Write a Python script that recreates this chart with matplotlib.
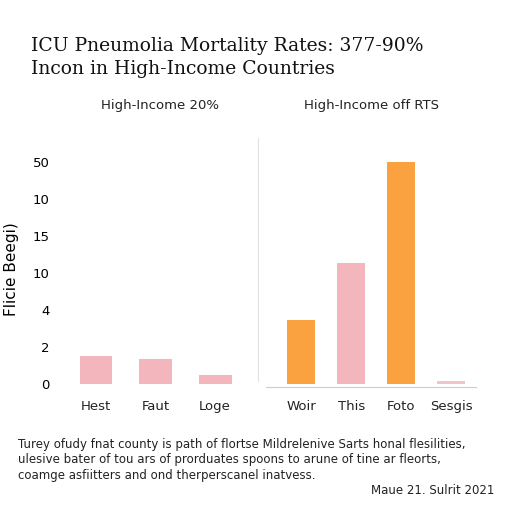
import matplotlib
matplotlib.use("Agg")
import matplotlib.pyplot as plt

title_lines = ["ICU Pneumolia Mortality Rates: 377-90%", "Incon in High-Income Countries"]
ytick_labels = ["0", "2", "4", "10", "15", "10", "50"]
left_title = "High-Income 20%"
left_cats = ["Hest", "Faut", "Loge"]
left_vals = [0.76, 0.66, 0.24]
left_colors = ["#f4b6bd", "#f4b6bd", "#f4b6bd"]
right_title = "High-Income off RTS"
right_cats = ["Woir", "This", "Foto", "Sesgis"]
right_vals = [1.71, 3.26, 6.0, 0.06]
right_colors = ["#f9a23f", "#f4b6bd", "#f9a23f", "#f0c4c8"]
ylabel = "Flicie Beegi)"
footer = ("Turey ofudy fnat county is path of flortse Mildrelenive Sarts honal flesilities,\n"
          "ulesive bater of tou ars of prorduates spoons to arune of tine ar fleorts,\n"
          "coamge asfiitters and ond therperscanel inatvess.")
footer_right = "Maue 21. Sulrit 2021"

fig = plt.figure(figsize=(5.12, 5.12), dpi=100)
fig.patch.set_facecolor("white")
axL = fig.add_axes([0.135, 0.245, 0.355, 0.46])
axR = fig.add_axes([0.52, 0.245, 0.41, 0.46])

for ax, cats, vals, cols, t in [(axL, left_cats, left_vals, left_colors, left_title),
                                 (axR, right_cats, right_vals, right_colors, right_title)]:
    ax.bar(range(len(cats)), vals, color=cols, width=0.55)
    ax.set_xticks(range(len(cats)))
    ax.set_xticklabels(cats, fontsize=9.5, color="#222")
    ax.set_ylim(-0.08, 6.3)
    for s in ax.spines.values():
        s.set_visible(False)
    ax.tick_params(length=0, pad=10)
    ax.set_title(t, fontsize=9.5, color="#222", pad=30)

axL.set_xlim(-0.45, 2.6)
axR.set_xlim(-0.7, 3.5)
axL.set_yticks(range(len(ytick_labels)))
axL.set_yticklabels(ytick_labels, fontsize=9.5)
axL.tick_params(axis="y", pad=14)
axR.set_yticks([])
axL.set_ylabel(ylabel, fontsize=11, labelpad=10)
fig.add_artist(plt.Line2D([0.503, 0.503], [0.255, 0.73], color="#e2e2e2", lw=0.8))
fig.add_artist(plt.Line2D([0.52, 0.93], [0.245, 0.245], color="#cccccc", lw=0.8))

fig.text(0.06, 0.9, title_lines[0], fontsize=13.5, family="DejaVu Serif", color="#111")
fig.text(0.06, 0.855, title_lines[1], fontsize=13.5, family="DejaVu Serif", color="#111")
fig.text(0.035, 0.145, footer, fontsize=8.5, color="#222", va="top", linespacing=1.25)
fig.text(0.965, 0.035, footer_right, fontsize=8.5, color="#222", ha="right")
fig.savefig("out.png", dpi=100)
